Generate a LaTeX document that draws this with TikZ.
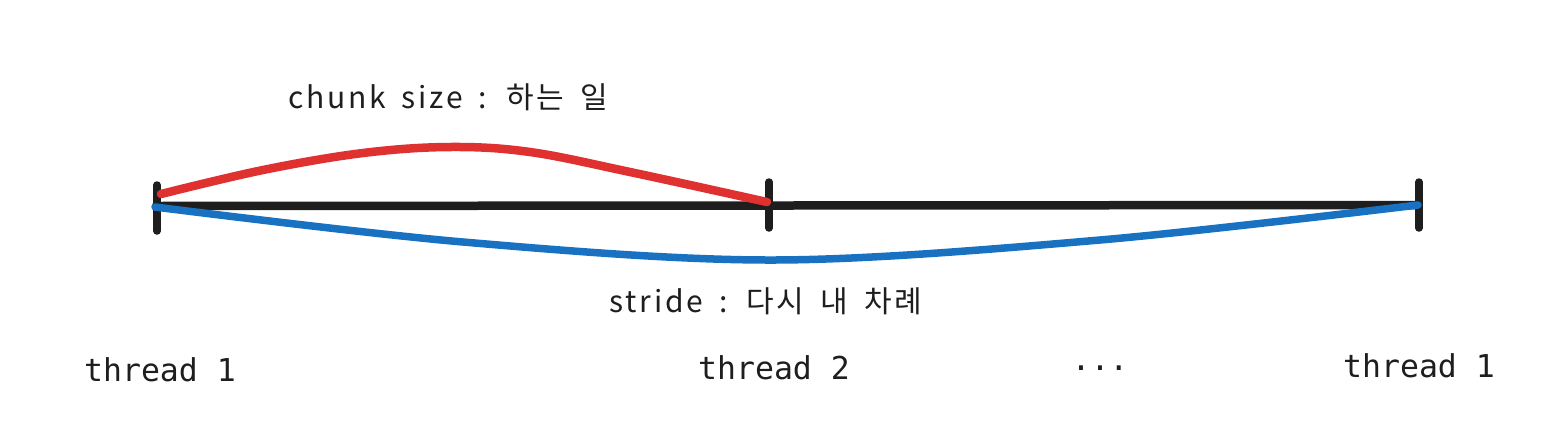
\documentclass[tikz,border=0pt]{standalone}
\usepackage{fontspec}
\setmainfont{Noto Sans CJK KR}[LetterSpace=9, WordSpace=1.7]
\newfontfamily\monofam{DejaVu Sans Mono}
\definecolor{inkblack}{HTML}{1E1E1E}
\definecolor{inkred}{HTML}{E03131}
\definecolor{inkblue}{HTML}{1971C2}
\tikzset{
  tickmark/.style={draw=inkblack, line width=7.5pt, line cap=round},
  baseline/.style={draw=inkblack, line width=8.5pt, line cap=round},
  chunkcurve/.style={draw=inkred, line width=8.5pt, line cap=round},
  stridecurve/.style={draw=inkblue, line width=7.5pt, line cap=round},
  lbl/.style={font=\fontsize{30}{34}\selectfont, text=inkblack, inner sep=0pt},
  thr/.style={font=\monofam\fontsize{31.5}{36}\selectfont, text=inkblack, inner sep=0pt}
}
\begin{document}
\begin{tikzpicture}[x=1pt,y=-1pt]
\useasboundingbox (0,0) rectangle (1564,437);
% named points
\coordinate (L) at (156,206);
\coordinate (M) at (769,204);
\coordinate (R) at (1418,205);
\coordinate (Lt) at (157,185); \coordinate (Lb) at (157,231);
\coordinate (Mt) at (769,182); \coordinate (Mb) at (769,228);
\coordinate (Rt) at (1419,182); \coordinate (Rb) at (1419,228);
% baseline
\draw[baseline] (L) -- (R);
% ticks
\draw[tickmark] (Lt) -- (Lb);
\draw[tickmark] (Mt) -- (Mb);
\draw[tickmark] (Rt) -- (Rb);
% red chunk curve
\draw[chunkcurve] plot[smooth, tension=0.6] coordinates {(161,194) (263,170) (363,153) (450,147) (530,152) (630,172) (767,202)};
% blue stride curve
\draw[stridecurve] plot[smooth, tension=0.55] coordinates {(155,207) (463,242) (775,260) (1100,240) (1418,205)};
% labels
\node[lbl] (chunk) at (448,97) {chunk size : 하는 일};
\node[lbl] (stride) at (766,301) {stride : 다시 내 차례};
\node[thr] (t1) at (160,370) {thread 1};
\node[thr] (t2) at (774,368) {thread 2};
\node[thr] (dots) at (1100,368) {...};
\node[thr] (t3) at (1419,366) {thread 1};
\end{tikzpicture}
\end{document}
